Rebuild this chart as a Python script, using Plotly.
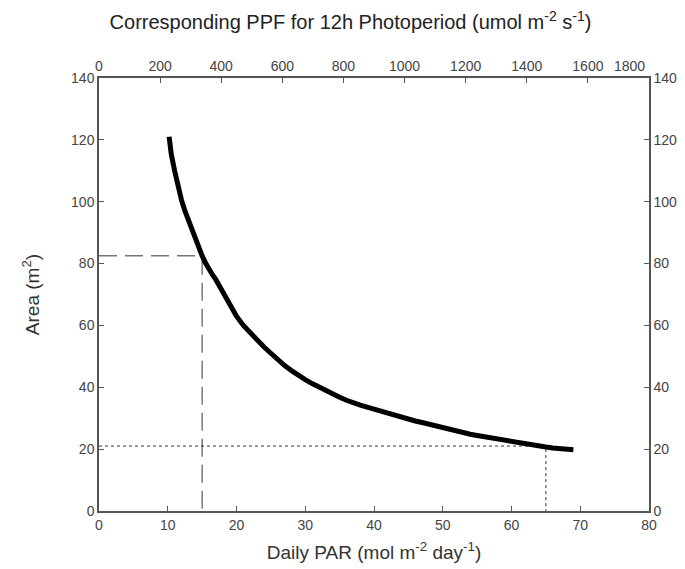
import plotly.graph_objects as go

# Data
par = [10.2, 10.5, 11, 11.5, 12, 12.5, 13, 13.5, 14, 14.5, 15, 15.5, 16, 16.5, 17, 18, 19, 20,
       21, 22, 23, 24, 25, 26, 27, 28, 29, 30, 31, 32, 33, 34, 35, 36, 37, 38, 39, 40,
       41, 42, 43, 44, 45, 46, 47, 48, 49, 50, 51, 52, 53, 54, 55, 56, 57, 58, 59, 60,
       61, 62, 63, 64, 65, 66, 67, 68, 69]
area = [121, 115.5, 110, 104.5, 100.5, 97, 94, 91, 88, 85.3, 82.5, 80.2, 78, 76.4, 74.8, 70.8, 66.6, 63,
        60, 57.5, 55.3, 53, 51, 48.8, 47, 45.4, 43.8, 42.5, 41.2, 40, 38.8, 37.8, 36.8, 35.8, 34.9, 34.2, 33.6, 32.9,
        32.2, 31.5, 30.9, 30.3, 29.6, 29.1, 28.6, 28.0, 27.4, 26.8, 26.3, 25.8, 25.3, 24.8, 24.4, 24.0, 23.5, 23.1, 22.8, 22.5,
        22.1, 21.8, 21.5, 21.1, 20.7, 20.4, 20.1, 19.8, 19.8]

marker_a_x = [0, 15, 15]
marker_a_y = [82.5, 82.5, 0]
marker_b_x = [0, 65, 65]
marker_b_y = [21, 21, 0]

x_ticks = list(range(0, 81, 10))
y_ticks = list(range(0, 141, 20))
ppf_ticks = list(range(0, 1801, 200))
ppf_labels = [str(v) for v in ppf_ticks]

tick_font = dict(family="Liberation Sans, Arial, sans-serif", size=14, color="#444")
label_font = dict(family="Liberation Sans, Arial, sans-serif", size=19, color="#333")
axis_col = "#555"

fig = go.Figure()
fig.add_trace(go.Scatter(x=marker_a_x, y=marker_a_y, mode="lines",
                         line=dict(color="#333", width=1, dash="18px,8px"), showlegend=False, hoverinfo="skip"))
fig.add_trace(go.Scatter(x=marker_b_x, y=marker_b_y, mode="lines",
                         line=dict(color="#333", width=1, dash="3px,3px"), showlegend=False, hoverinfo="skip"))
fig.add_trace(go.Scatter(x=par, y=area, mode="lines",
                         line=dict(color="black", width=5), showlegend=False))
# invisible traces to activate the secondary axes
fig.add_trace(go.Scatter(x=[None], y=[None], xaxis="x2", yaxis="y", showlegend=False))
fig.add_trace(go.Scatter(x=[None], y=[None], xaxis="x", yaxis="y2", showlegend=False))

common = dict(showgrid=False, zeroline=False, showline=True, linecolor=axis_col, linewidth=1.5,
              ticks="inside", ticklen=5, tickcolor=axis_col, tickfont=tick_font, automargin=False)

# last top-axis label is drawn left of the corner (as in the reference) to avoid the right "140"
top_text = ppf_labels[:-1] + [""]

fig.update_layout(
    width=685, height=569,
    margin=dict(l=91, r=44, t=70, b=66),
    paper_bgcolor="white", plot_bgcolor="white",
    title=dict(text="Corresponding PPF for 12h Photoperiod (umol m<sup>-2</sup> s<sup>-1</sup>)",
               x=0.5, xanchor="center", y=1 - 14 / 569, yanchor="middle",
               font=dict(family="Liberation Sans, Arial, sans-serif", size=20, color="#222")),
    xaxis=dict(range=[0, 80], tickvals=x_ticks,
               title=dict(text="Daily PAR (mol m<sup>-2</sup> day<sup>-1</sup>)", standoff=14, font=label_font),
               **common),
    xaxis2=dict(range=[0, 1800], tickvals=ppf_ticks, ticktext=top_text,
                overlaying="x", side="top", anchor="y", **common),
    yaxis=dict(range=[0, 140], tickvals=y_ticks,
               title=dict(text="Area (m<sup>2</sup>)", standoff=26, font=label_font),
               **common),
    yaxis2=dict(range=[0, 140], tickvals=y_ticks, overlaying="y", side="right", anchor="x", **common),
    annotations=[dict(x=ppf_ticks[-1], xref="x2", y=1, yref="paper", text=ppf_labels[-1],
                      showarrow=False, xanchor="right", yanchor="bottom", yshift=2, xshift=-2,
                      font=tick_font)],
)

fig.write_html("out.html")
